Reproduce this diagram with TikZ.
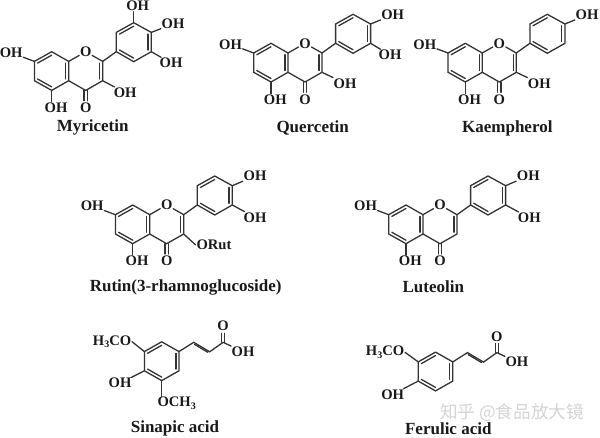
\documentclass[tikz,border=0pt]{standalone}
\usepackage{fontspec}
\setmainfont{Liberation Serif}
\newfontfamily\cjkfont{Noto Sans CJK SC}
\usetikzlibrary{calc}

\tikzset{
    bond/.style = {color=black!80, line width=1.3pt, line cap=round},
    atom/.style = {font=\bfseries\fontsize{14.6}{15}\selectfont, text=black!90, inner sep=.6pt},
    caption/.style = {font=\bfseries\fontsize{17}{18}\selectfont, text=black!90, inner sep=0pt}
}

\newcommand{\lowsub}[1]{\raisebox{-2.5pt}{\fontsize{10}{10}\selectfont #1}}
\newcommand{\dbl}[3]{\draw [bond] ($(#1)!.18!(#3)$) -- ($(#2)!.18!(#3)$);}

% two fused rings, drawn round the ring oxygen at the origin of a scope
\newcommand{\chromone}{
    \coordinate (c8) at (-34,0);
    \coordinate (c7) at (-51.3,9.7);
    \coordinate (c6) at (-51.3,29);
    \coordinate (c5) at (-34,38.7);
    \coordinate (c4a) at (-17,29);
    \coordinate (c8a) at (-17,9.7);
    \coordinate (c2) at (17,9.7);
    \coordinate (c3) at (17,29);
    \coordinate (c4) at (0,38.7);
    \coordinate (midA) at (-34,19.3);
    \coordinate (midC) at (0,19.3);
    \node [atom] (o1) at (0,0) {O};
    \node [atom] (o4) at (0,56) {O};
    \node [atom] (oh5) at (-29.7,56) {OH};
    \node [atom] (oh7) at (-74.5,1) {OH};
    \draw [bond] (c8) -- (c7) -- (c6) -- (c5) -- (c4a) -- (c8a) -- (c8);
    \draw [bond] (c8a) -- (o1) -- (c2) -- (c3) -- (c4) -- (c4a);
    \dbl{c8}{c7}{midA}
    \dbl{c6}{c5}{midA}
    \dbl{c4a}{c8a}{midA}
    \dbl{c2}{c3}{midC}
    \draw [bond] (-1.6,38.7) -- (-1.6,49);
    \draw [bond] (1.6,38.7) -- (1.6,49);
    \draw [bond] (c5) -- (c5 |- oh5.north);
    \draw [bond] (c7) -- (oh7);
}

% the side ring on position 2
\newcommand{\sidering}{
    \coordinate (b1) at (30.6,0);
    \coordinate (b2) at (30.6,-19.3);
    \coordinate (b3) at (48,-29);
    \coordinate (b4) at (65.6,-19.3);
    \coordinate (b5) at (65.6,0);
    \coordinate (b6) at (48,10);
    \coordinate (midB) at (48,-9.6);
    \draw [bond] (c2) -- (b1) -- (b2) -- (b3) -- (b4) -- (b5) -- (b6) -- (b1);
    \dbl{b2}{b3}{midB}
    \dbl{b4}{b5}{midB}
    \dbl{b6}{b1}{midB}
}

% benzene ring with the acid chain, drawn round the ring centre
\newcommand{\acidring}{
    \coordinate (r0) at (0,0);
    \coordinate (r1) at (0,-19.4);
    \coordinate (r2) at (-17.3,-9.6);
    \coordinate (r3) at (-17.3,9.6);
    \coordinate (r4) at (0,19.4);
    \coordinate (r5) at (17.3,9.6);
    \coordinate (r6) at (17.3,-9.6);
    \coordinate (ca) at (32,-18.9);
    \coordinate (cb) at (48,-9.4);
    \coordinate (cc) at (61.4,-18.9);
    \coordinate (cd) at (37,-7);
    \node [atom] (oa) at (61.4,-35) {O};
    \node [atom] (oh) at (81.4,-9.4) {OH};
    \draw [bond] (r1) -- (r2) -- (r3) -- (r4) -- (r5) -- (r6) -- (r1);
    \dbl{r1}{r2}{r0}
    \dbl{r3}{r4}{r0}
    \dbl{r5}{r6}{r0}
    \draw [bond] (r6) -- (ca) -- (cb) -- (cc) -- (oh);
    \dbl{ca}{cb}{cd}
    \draw [bond] (59.9,-18.9) -- (59.9,-28);
    \draw [bond] (62.9,-18.9) -- (62.9,-28);
}

\begin{document}
\begin{tikzpicture}[x=1pt, y=-1pt]
    \useasboundingbox (0,0) rectangle (600,438);

    \begin{scope}[shift={(85.7,51.7)}, name prefix=myr-]
        \chromone
        \sidering
        \node [atom] (oh3) at (39.5,41) {OH};
        \node [atom] (ohtop) at (52,-45.7) {OH};
        \node [atom] (ohmid) at (87.3,-27.7) {OH};
        \node [atom] (ohlow) at (85.3,11.3) {OH};
        \draw [bond] (c3) -- (oh3);
        \draw [bond] (b3) -- (b3 |- ohtop.south);
        \draw [bond] (b4) -- (ohmid);
        \draw [bond] (b5) -- (ohlow);
    \end{scope}
    \node [caption] (myrname) at (92.7,127.7) {Myricetin};

    \begin{scope}[shift={(305,43.3)}, name prefix=que-]
        \chromone
        \sidering
        \node [atom] (oh3) at (40,40) {OH};
        \node [atom] (ohmid) at (87.7,-28.3) {OH};
        \node [atom] (ohlow) at (85,11.7) {OH};
        \draw [bond] (c3) -- (oh3);
        \draw [bond] (b4) -- (ohmid);
        \draw [bond] (b5) -- (ohlow);
    \end{scope}
    \node [caption] (quename) at (312.7,128.3) {Quercetin};

    \begin{scope}[shift={(499.3,43.3)}, name prefix=kae-]
        \chromone
        \sidering
        \node [atom] (oh3) at (40,40) {OH};
        \node [atom] (ohmid) at (87.7,-28.3) {OH};
        \draw [bond] (c3) -- (oh3);
        \draw [bond] (b4) -- (ohmid);
    \end{scope}
    \node [caption] (kaename) at (507.3,128.3) {Kaempherol};

    \begin{scope}[shift={(166.7,205)}, name prefix=rut-]
        \chromone
        \sidering
        \node [atom, anchor=west] (orut) at (29,40) {ORut};
        \node [atom] (ohmid) at (88.3,-29) {OH};
        \node [atom] (ohlow) at (88.3,12.3) {OH};
        \draw [bond] (c3) -- (orut.west);
        \draw [bond] (b4) -- (ohmid);
        \draw [bond] (b5) -- (ohlow);
    \end{scope}
    \node [caption] (rutname) at (185.7,287.7) {Rutin(3-rhamnoglucoside)};

    \begin{scope}[shift={(440,205)}, name prefix=lut-]
        \chromone
        \sidering
        \node [atom] (ohmid) at (88.3,-29) {OH};
        \node [atom] (ohlow) at (89.3,12.7) {OH};
        \draw [bond] (b4) -- (ohmid);
        \draw [bond] (b5) -- (ohlow);
    \end{scope}
    \node [caption] (lutname) at (433.3,286.7) {Luteolin};

    \begin{scope}[shift={(161.7,361.2)}, name prefix=sin-]
        \acidring
        \node [atom, anchor=east] (ome) at (-29.7,-19.5) {H\lowsub{3}CO};
        \node [atom] (ohring) at (-41.7,22) {OH};
        \node [atom, anchor=west] (omelow) at (-5,42) {OCH\lowsub{3}};
        \draw [bond] (r2) -- (ome.east);
        \draw [bond] (r3) -- (ohring);
        \draw [bond] (r4) -- (r4 |- omelow.north);
    \end{scope}
    \node [caption] (sinname) at (175,428.3) {Sinapic acid};

    \begin{scope}[shift={(435.5,371.5)}, name prefix=fer-]
        \acidring
        \node [atom, anchor=east] (ome) at (-30.5,-19.2) {H\lowsub{3}CO};
        \node [atom] (ohring) at (-42.8,22.8) {OH};
        \draw [bond] (r2) -- (ome.east);
        \draw [bond] (r3) -- (ohring);
    \end{scope}
    \node [caption] (fername) at (448.3,428.3) {Ferulic acid};

    \node [font=\cjkfont\fontsize{17.6}{18}\selectfont, text=black!17, inner sep=0pt] (mark) at (512,413) {知乎 @食品放大镜};
\end{tikzpicture}
\end{document}
